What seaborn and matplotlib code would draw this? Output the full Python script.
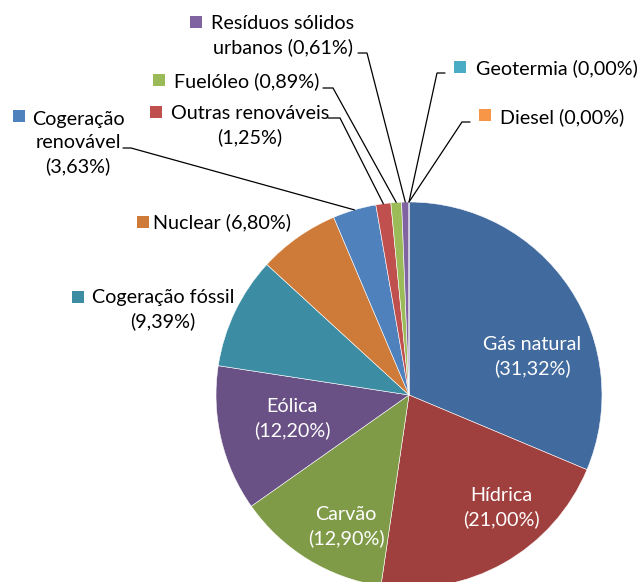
import matplotlib
matplotlib.use("Agg")
import matplotlib.pyplot as plt
import seaborn as sns
import numpy as np

# ---------------- data ----------------
categories = ["Gás natural", "Hídrica", "Carvão", "Eólica", "Cogeração fóssil",
              "Nuclear", "Cogeração renovável", "Outras renováveis", "Fuelóleo",
              "Resíduos sólidos urbanos", "Geotermia", "Diesel"]
values = [31.32, 21.00, 12.90, 12.20, 9.39, 6.80, 3.63, 1.25, 0.89, 0.61, 0.00, 0.00]
label_texts = ["Gás natural\n(31,32%)", "Hídrica\n(21,00%)", "Carvão\n(12,90%)",
               "Eólica\n(12,20%)", "Cogeração fóssil\n(9,39%)", "Nuclear (6,80%)",
               "Cogeração\nrenovável\n(3,63%)", "Outras renováveis\n(1,25%)",
               "Fuelóleo (0,89%)", "Resíduos sólidos\nurbanos (0,61%)",
               "Geotermia (0,00%)", "Diesel (0,00%)"]
colors = ["#416A9E", "#A0403E", "#809B48", "#695085", "#3C8DA3", "#CE7B39",
          "#4F81BD", "#C0504D", "#9BBB59", "#8064A2", "#4BACC6", "#F79646"]

# ---------------- layout (pixel coordinates) ----------------
W, H = 640, 582
CX, CY, R = 409, 395, 193
inside = {0: (532, 357), 1: (501, 508), 2: (346, 527), 3: (292, 419)}
outside = {
    4: dict(text=(163, 310), marker=(78, 297), leader=None),
    5: dict(text=(222, 222), marker=(143, 222), leader=None),
    6: dict(text=(78, 143), marker=(19, 116), leader=(123, 148, 131)),
    7: dict(text=(250, 126), marker=(156, 112), leader=(328, 118, 340)),
    8: dict(text=(247, 81), marker=(159, 80), leader=(323, 88, 333)),
    9: dict(text=(283, 36), marker=(196, 22), leader=(358, 53, 367)),
    10: dict(text=(557, 68), marker=(460, 67), leader=(445, 73, 437)),
    11: dict(text=(562, 117), marker=(485, 115), leader=(470, 122, 462)),
}

sns.set_theme(style="white")
plt.rcParams['font.family'] = ['Lato', 'DejaVu Sans']

fig = plt.figure(figsize=(W / 100, H / 100), dpi=100)
ax = fig.add_axes([0, 0, 1, 1])

wedges, _ = ax.pie(values, colors=colors, startangle=-90, counterclock=True,
                   center=(CX, CY), radius=R,
                   wedgeprops=dict(edgecolor="white", linewidth=0.4))
ax.set_xlim(0, W)
ax.set_ylim(H, 0)
ax.set_aspect("equal", adjustable="box")
ax.axis("off")

FS = 14.2
LS = 1.42
for i, (x, y) in inside.items():
    ax.text(x, y, label_texts[i], ha="center", va="center", color="white",
            fontsize=FS, linespacing=LS, multialignment="center")

for i, d in outside.items():
    x, y = d["text"]
    ax.text(x, y, label_texts[i], ha="center", va="center", color="black",
            fontsize=FS, linespacing=LS, multialignment="center")
    mx, my = d["marker"]
    ax.plot([mx], [my], marker="s", markersize=8.5, color=colors[i],
            markeredgewidth=0, linestyle="none")
    if d["leader"] is not None:
        sx, sy, ex = d["leader"]
        w = wedges[i]
        th = np.deg2rad((w.theta1 + w.theta2) / 2)
        px, py = CX + R * np.cos(th), CY + R * np.sin(th)
        ax.plot([sx, ex, px], [sy, sy, py], color="black", linewidth=0.9,
                solid_joinstyle="miter")

fig.savefig("out.png", dpi=100)
